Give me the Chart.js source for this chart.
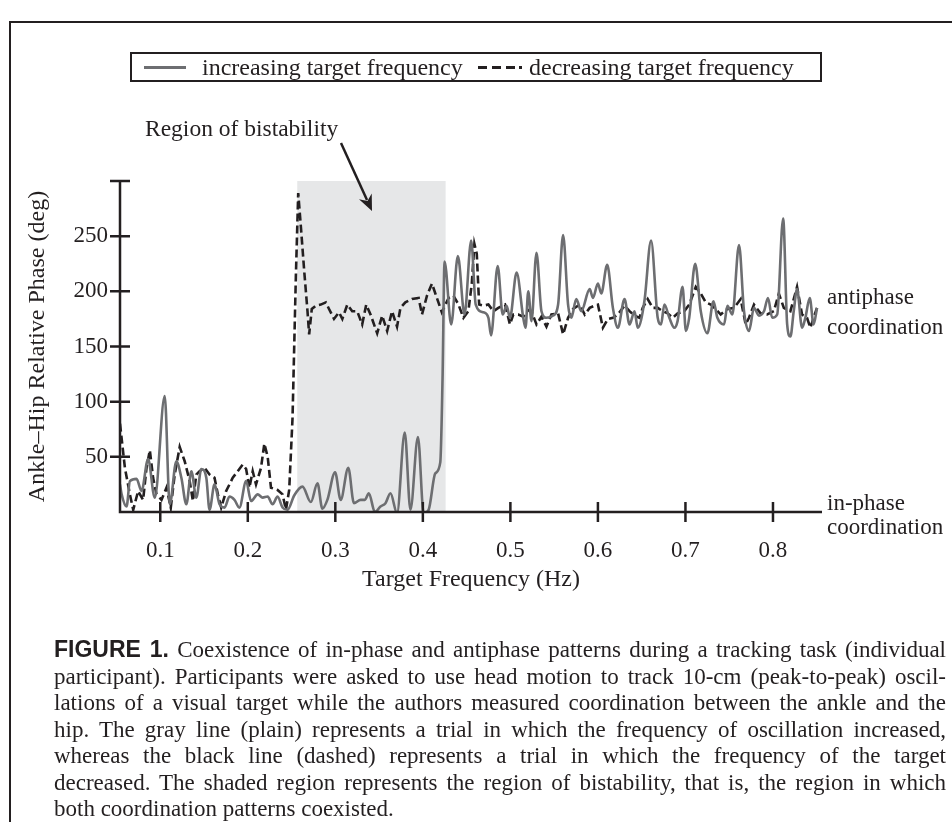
<!DOCTYPE html>
<html>
<head>
<meta charset="utf-8">
<script src="https://cdn.jsdelivr.net/npm/chart.js@4.4.0/dist/chart.umd.min.js"></script>
<style>
html,body{margin:0;padding:0;background:#fff;}
#wrap{position:relative;width:952px;height:822px;overflow:hidden;background:#fff;color:#231f20;}
#frame{position:absolute;left:9px;top:21px;width:1000px;height:900px;border-left:2px solid #231f20;border-top:2px solid #231f20;}
#chart{position:absolute;left:0;top:0;}
#legend{position:absolute;left:130px;top:52px;width:688px;height:26px;border:2px solid #231f20;font-family:'Liberation Serif',serif;font-size:24px;}
.lg{position:absolute;top:-1px;line-height:28px;white-space:nowrap;}
.sw{position:absolute;top:12px;height:2.6px;}
#caption{position:absolute;left:54px;top:636px;width:892px;font-family:'Liberation Serif',serif;font-size:23px;line-height:26.5px;}
#caption div{white-space:nowrap;}
#caption b{font-family:'Liberation Sans',sans-serif;font-weight:bold;}
</style>
</head>
<body>
<div id="wrap">
  <div id="frame"></div>
  <canvas id="chart" width="952" height="822"></canvas>
  <div id="legend">
    <div class="sw" style="left:12px;width:42px;background:#6d6e71;"></div>
    <div class="lg" style="left:70px;">increasing target frequency</div>
    <div class="sw" style="left:346px;width:9px;background:#231f20;"></div>
    <div class="sw" style="left:360px;width:9px;background:#231f20;"></div>
    <div class="sw" style="left:374px;width:9px;background:#231f20;"></div>
    <div class="sw" style="left:387px;width:3px;background:#231f20;"></div>
    <div class="lg" style="left:397px;">decreasing target frequency</div>
  </div>
  <div id="caption">
    <div><b>FIGURE 1.</b> Coexistence of in-phase and antiphase patterns during a tracking task (individual</div>
    <div>participant). Participants were asked to use head motion to track 10-cm (peak-to-peak) oscil-</div>
    <div>lations of a visual target while the authors measured coordination between the ankle and the</div>
    <div>hip. The gray line (plain) represents a trial in which the frequency of oscillation increased,</div>
    <div>whereas the black line (dashed) represents a trial in which the frequency of the target</div>
    <div>decreased. The shaded region represents the region of bistability, that is, the region in which</div>
    <div class="last">both coordination patterns coexisted.</div>
  </div>
</div>
<script>
// ---- data ----
const freqIncreasing = [0.054,0.0559,0.0615,0.0653,0.0729,0.0786,0.0861,0.0937,0.1051,0.1108,0.1184,0.1241,0.1298,0.1355,0.1412,0.1469,0.1526,0.1563,0.162,0.1677,0.1734,0.1791,0.1848,0.1904,0.1981,0.2037,0.2113,0.217,0.2227,0.2283,0.234,0.2397,0.2454,0.253,0.2625,0.272,0.2796,0.2852,0.2909,0.2997,0.3061,0.3148,0.3213,0.3289,0.3338,0.3383,0.3452,0.3516,0.3573,0.363,0.3705,0.3793,0.3858,0.3944,0.4009,0.4066,0.4142,0.4199,0.4225,0.4248,0.4324,0.44,0.4476,0.4552,0.4604,0.4692,0.4749,0.4779,0.4855,0.4912,0.4957,0.4995,0.5071,0.5147,0.5173,0.5204,0.5241,0.5298,0.5355,0.5412,0.5488,0.5545,0.5602,0.5659,0.5696,0.5753,0.581,0.5906,0.5943,0.6,0.6038,0.6106,0.6171,0.6228,0.6304,0.6361,0.6418,0.6455,0.6531,0.6607,0.6683,0.6721,0.6759,0.6816,0.6873,0.691,0.6967,0.7005,0.7043,0.7111,0.7175,0.7251,0.732,0.7365,0.7441,0.7479,0.7536,0.7612,0.7669,0.7726,0.7783,0.784,0.7897,0.7943,0.7991,0.8048,0.8116,0.8162,0.8199,0.8237,0.8275,0.8332,0.837,0.842,0.8464,0.8503];
const phaseIncreasing = [25,16,5,28,30,19,48,13,105,7,46,31,7,37,13,39,31,2,25,7,4,14,11,4,28,10,16,13,14,7,14,4,2,15,23,9,26,3,11,36,11,40,8,11,11,17,0,5,8,17,-1,72,2,68,-1,2,35,45,121,227,170,232,179,246,188,181,176,160,223,179,187,176,217,176,167,200,173,235,182,176,178,188,251,188,176,193,182,202,194,207,198,224,185,167,193,170,182,167,191,246,176,170,188,176,167,173,204,164,176,225,182,162,191,176,170,187,179,242,182,164,185,178,182,194,176,179,266,170,159,182,202,167,176,194,170,185];

const freqDecreasing = [0.054,0.0596,0.0653,0.0691,0.0747,0.0804,0.0843,0.0881,0.0918,0.0957,0.1014,0.1071,0.112,0.1165,0.1222,0.1279,0.1336,0.1373,0.1412,0.1449,0.1506,0.1563,0.162,0.1658,0.1696,0.1753,0.1828,0.1942,0.1981,0.2018,0.2056,0.2094,0.2151,0.2189,0.2227,0.2265,0.234,0.2397,0.2436,0.2473,0.2511,0.2549,0.2576,0.2606,0.2644,0.2682,0.2701,0.2731,0.2777,0.2834,0.2891,0.2928,0.2985,0.3042,0.308,0.3137,0.3193,0.325,0.3307,0.3353,0.3402,0.3478,0.3535,0.3592,0.3648,0.3705,0.3744,0.38,0.3876,0.3952,0.399,0.4047,0.4104,0.416,0.4217,0.4294,0.435,0.4407,0.4464,0.452,0.4559,0.4589,0.4616,0.4643,0.4692,0.4749,0.4806,0.4862,0.4939,0.4995,0.5033,0.509,0.5147,0.5204,0.5241,0.5298,0.5355,0.5412,0.5469,0.5545,0.5602,0.5659,0.5716,0.5792,0.5849,0.5906,0.5962,0.6,0.6057,0.6114,0.6171,0.6228,0.6304,0.6361,0.6418,0.6474,0.6512,0.6569,0.6626,0.6683,0.674,0.6797,0.6854,0.691,0.6986,0.7043,0.7118,0.7175,0.7232,0.7289,0.7346,0.7403,0.7479,0.7555,0.7631,0.7688,0.7726,0.7783,0.7858,0.7934,0.801,0.8067,0.8124,0.8199,0.8275,0.8332,0.8389,0.8427,0.8464,0.8503];
const phaseDecreasing = [80,40,16,2,19,11,40,56,31,16,11,22,4,34,59,46,28,10,34,37,40,34,31,16,4,19,31,43,39,22,37,25,40,62,50,22,20,16,2,20,85,213,289,259,219,182,161,184,187,188,190,184,175,181,175,188,182,182,170,188,179,162,178,164,182,168,185,190,193,194,179,196,207,194,181,194,196,188,176,182,207,243,234,188,187,188,182,185,188,170,179,179,177,183,182,170,177,168,179,180,161,176,184,188,179,185,187,188,167,175,176,179,187,182,178,176,185,193,185,185,182,180,176,180,182,188,204,198,190,188,184,179,184,185,193,170,176,188,180,179,182,198,185,182,204,179,176,167,176,185];

const xTickValues = [0.1,0.2,0.3,0.4,0.5,0.6,0.7,0.8];
const yTickValues = [50,100,150,200,250,300];
const bistabilityRange = [0.2565,0.426];
const xRange = [0.054,0.856];
const yRange = [0,300];

const seriesLabels = ['increasing target frequency','decreasing target frequency'];

const INK = '#231f20';
const SERIF = "'Liberation Serif', serif";

function pts(xs, ys){ return xs.map((x,i)=>({x:x, y:ys[i]})); }

const decoPlugin = {
  id:'deco',
  beforeDatasetsDraw(chart){
    const {ctx, scales:{x,y}} = chart;
    const x0 = x.getPixelForValue(bistabilityRange[0]);
    const x1 = x.getPixelForValue(bistabilityRange[1]);
    const yt = y.getPixelForValue(yRange[1]);
    const yb = y.getPixelForValue(0);
    ctx.save();
    ctx.fillStyle = '#e6e7e8';
    ctx.fillRect(x0, yt, x1-x0, yb-yt);
    ctx.restore();
  },
  afterDatasetsDraw(chart){
    const {ctx, scales:{x,y}} = chart;
    const left = x.getPixelForValue(xRange[0]);
    const right = x.getPixelForValue(xRange[1]);
    const top = y.getPixelForValue(yRange[1]);
    const base = y.getPixelForValue(0);
    ctx.save();
    ctx.strokeStyle = INK;
    ctx.lineWidth = 2.5;
    ctx.lineCap = 'butt';
    ctx.beginPath();
    ctx.moveTo(left, top); ctx.lineTo(left, base + 1.25);
    ctx.moveTo(left - 1.25, base); ctx.lineTo(right, base);
    yTickValues.forEach(v=>{ const p = y.getPixelForValue(v); ctx.moveTo(left-10, p); ctx.lineTo(left+10, p); });
    xTickValues.forEach(v=>{ const p = x.getPixelForValue(v); ctx.moveTo(p, base-10); ctx.lineTo(p, base+10); });
    ctx.stroke();

    // side annotations
    ctx.fillStyle = INK;
    ctx.font = "23px " + SERIF;
    ctx.textBaseline = 'middle';
    ctx.textAlign = 'left';
    const lx = right + 5;
    const ya = y.getPixelForValue(180);
    ctx.fillText('antiphase', lx, ya - 15);
    ctx.fillText('coordination', lx, ya + 15);
    const yi = y.getPixelForValue(0);
    ctx.fillText('in-phase', lx, yi - 8);
    ctx.fillText('coordination', lx, yi + 16);

    // region label + arrow
    ctx.font = "23.5px " + SERIF;
    ctx.fillText('Region of bistability', 145, 130);
    const ax0 = 341, ay0 = 143, ax1 = 372, ay1 = 211;
    const ang = Math.atan2(ay1-ay0, ax1-ax0);
    const hl = 16, hw = 7;
    const bx = ax1 - hl*Math.cos(ang), by = ay1 - hl*Math.sin(ang);
    ctx.lineWidth = 2.5;
    ctx.beginPath(); ctx.moveTo(ax0, ay0); ctx.lineTo(bx + 4*Math.cos(ang), by + 4*Math.sin(ang)); ctx.stroke();
    ctx.beginPath();
    ctx.moveTo(ax1, ay1);
    ctx.lineTo(bx - hw*Math.sin(ang), by + hw*Math.cos(ang));
    ctx.lineTo(bx + 5*Math.cos(ang), by + 5*Math.sin(ang));
    ctx.lineTo(bx + hw*Math.sin(ang), by - hw*Math.cos(ang));
    ctx.closePath(); ctx.fill();
    ctx.restore();
  }
};

new Chart(document.getElementById('chart'), {
  type:'line',
  data:{
    datasets:[
      { label: seriesLabels[0], data: pts(freqIncreasing, phaseIncreasing), borderColor:'#6d6e71', borderWidth:2.6, pointRadius:0, cubicInterpolationMode:'monotone', fill:false },
      { label: seriesLabels[1], data: pts(freqDecreasing, phaseDecreasing), borderColor:INK, borderWidth:2.6, borderDash:[8,4], pointRadius:0, tension:0, fill:false }
    ]
  },
  options:{
    responsive:false,
    animation:false,
    devicePixelRatio:1,
    layout:{ padding:{ left:0, top:181, right:130, bottom:228 } },
    plugins:{ legend:{display:false}, tooltip:{enabled:false} },
    scales:{
      x:{
        type:'linear', min:xRange[0], max:xRange[1],
        grid:{display:false, drawTicks:false}, border:{display:false},
        afterBuildTicks(s){ s.ticks = xTickValues.map(v=>({value:v})); },
        afterFit(s){ s.height = 82; },
        ticks:{ color:INK, font:{family:SERIF, size:23}, padding:25, maxRotation:0, callback:(v)=>Number(v).toFixed(1) },
        title:{ display:true, text:'Target Frequency (Hz)', color:INK, font:{family:SERIF, size:24}, padding:{top:0,bottom:0} }
      },
      y:{
        min:yRange[0], max:yRange[1],
        grid:{display:false, drawTicks:false}, border:{display:false},
        afterBuildTicks(s){ s.ticks = yTickValues.map(v=>({value:v})); },
        afterFit(s){ s.width = 120; },
        ticks:{ color:INK, font:{family:SERIF, size:23}, padding:12, callback:(v)=> v===300 ? '' : String(v) },
        title:{ display:true, text:'Ankle–Hip Relative Phase (deg)', color:INK, font:{family:SERIF, size:24}, padding:{top:23,bottom:0} }
      }
    }
  },
  plugins:[decoPlugin]
});

// justify caption lines (fit font so the widest line fills the measure)
(function(){
  const cap = document.getElementById('caption');
  const W = 892;
  const divs = Array.from(cap.querySelectorAll('div'));
  const spans = divs.map(d=>{
    const span = document.createElement('span');
    while (d.firstChild) span.appendChild(d.firstChild);
    d.appendChild(span);
    return span;
  });
  let maxW = 0;
  spans.forEach((s,i)=>{ if(i<6) maxW = Math.max(maxW, s.getBoundingClientRect().width); });
  let fs = 23;
  if (maxW > W - 6) { fs = 23 * (W - 6) / maxW; cap.style.fontSize = fs + 'px'; }
  divs.forEach((d,i)=>{
    if (d.classList.contains('last')) return;
    const w = spans[i].getBoundingClientRect().width;
    const n = (d.textContent.match(/ /g)||[]).length;
    if (n>0) d.style.wordSpacing = ((W - w)/n) + 'px';
  });
})();
</script>
</body>
</html>
